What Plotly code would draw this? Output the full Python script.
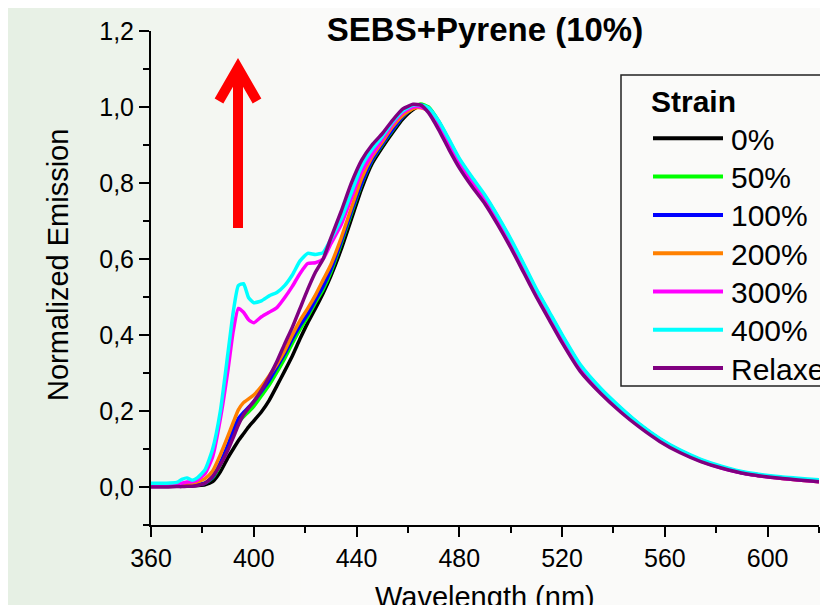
import plotly.graph_objects as go

# emission spectra (normalized)
wavelength = [360, 366, 370, 372, 374, 376, 378, 381, 384, 387, 390, 392, 394, 396, 398, 400,
              403, 406, 409, 412, 415, 418, 421, 424, 427, 430, 434, 438, 442, 446, 450, 454,
              458, 462, 465, 468, 472, 476, 480, 485, 490, 495, 500, 505, 510, 515, 520, 527,
              535, 543, 550, 558, 566, 574, 582, 592, 605, 620]

strain_0 = [0.002, 0.002, 0.002, 0.002, 0.003, 0.003, 0.004, 0.006, 0.014, 0.04, 0.078, 0.10, 0.122, 0.14, 0.158, 0.174,
            0.198, 0.228, 0.266, 0.305, 0.345, 0.39, 0.432, 0.47, 0.51, 0.555, 0.625, 0.705, 0.785, 0.85, 0.893, 0.932,
            0.968, 0.993, 1.003, 0.996, 0.956, 0.905, 0.856, 0.806, 0.76, 0.705, 0.645, 0.58, 0.515, 0.455, 0.395, 0.318,
            0.256, 0.205, 0.165, 0.126, 0.095, 0.071, 0.053, 0.036, 0.025, 0.016]
strain_50 = [0.003, 0.003, 0.003, 0.004, 0.004, 0.005, 0.006, 0.01, 0.024, 0.058, 0.105, 0.14, 0.17, 0.185, 0.198, 0.212,
             0.24, 0.268, 0.302, 0.338, 0.378, 0.415, 0.448, 0.485, 0.52, 0.565, 0.64, 0.72, 0.797, 0.858, 0.90, 0.938,
             0.974, 0.997, 1.008, 1.0, 0.962, 0.912, 0.862, 0.812, 0.765, 0.71, 0.65, 0.585, 0.518, 0.458, 0.398, 0.32,
             0.257, 0.205, 0.165, 0.126, 0.094, 0.07, 0.052, 0.035, 0.024, 0.015]
strain_100 = [0.003, 0.003, 0.003, 0.004, 0.004, 0.005, 0.006, 0.01, 0.026, 0.064, 0.112, 0.15, 0.18, 0.196, 0.21, 0.225,
              0.252, 0.28, 0.315, 0.35, 0.39, 0.425, 0.455, 0.492, 0.528, 0.572, 0.645, 0.725, 0.80, 0.86, 0.902, 0.94,
              0.975, 0.998, 1.005, 0.997, 0.96, 0.91, 0.86, 0.81, 0.763, 0.708, 0.648, 0.583, 0.517, 0.457, 0.397, 0.319,
              0.256, 0.205, 0.164, 0.125, 0.094, 0.07, 0.052, 0.035, 0.024, 0.015]
strain_200 = [0.004, 0.004, 0.005, 0.006, 0.008, 0.01, 0.013, 0.022, 0.042, 0.085, 0.135, 0.17, 0.203, 0.222, 0.232, 0.242,
              0.265, 0.293, 0.323, 0.358, 0.40, 0.438, 0.47, 0.505, 0.545, 0.585, 0.655, 0.735, 0.812, 0.868, 0.908, 0.948,
              0.978, 0.996, 0.998, 0.99, 0.953, 0.903, 0.853, 0.803, 0.757, 0.702, 0.643, 0.578, 0.512, 0.452, 0.392, 0.315,
              0.253, 0.203, 0.163, 0.124, 0.093, 0.069, 0.051, 0.035, 0.023, 0.014]
strain_300 = [0.005, 0.005, 0.008, 0.01, 0.013, 0.014, 0.018, 0.035, 0.08, 0.18, 0.31, 0.41, 0.47, 0.46, 0.44, 0.432,
              0.448, 0.46, 0.472, 0.498, 0.528, 0.562, 0.588, 0.59, 0.60, 0.64, 0.69, 0.76, 0.83, 0.875, 0.915, 0.955,
              0.985, 1.0, 1.0, 0.99, 0.952, 0.9, 0.85, 0.8, 0.754, 0.7, 0.64, 0.575, 0.508, 0.448, 0.388, 0.312,
              0.251, 0.20, 0.161, 0.123, 0.092, 0.068, 0.05, 0.034, 0.023, 0.014]
strain_400 = [0.01, 0.01, 0.012, 0.02, 0.024, 0.018, 0.024, 0.045, 0.10, 0.20, 0.355, 0.46, 0.53, 0.535, 0.498, 0.485,
              0.49, 0.503, 0.512, 0.53, 0.558, 0.595, 0.615, 0.612, 0.617, 0.652, 0.705, 0.775, 0.845, 0.888, 0.922, 0.96,
              0.99, 1.005, 1.005, 0.998, 0.963, 0.915, 0.865, 0.815, 0.768, 0.713, 0.653, 0.588, 0.521, 0.461, 0.401, 0.323,
              0.26, 0.208, 0.167, 0.128, 0.097, 0.073, 0.055, 0.038, 0.027, 0.019]
relaxed = [0.0, 0.0, 0.001, 0.001, 0.002, 0.002, 0.004, 0.01, 0.028, 0.058, 0.098, 0.13, 0.163, 0.19, 0.208, 0.225,
           0.255, 0.29, 0.33, 0.376, 0.42, 0.47, 0.52, 0.565, 0.60, 0.655, 0.725, 0.80, 0.86, 0.90, 0.93, 0.965,
           0.995, 1.007, 1.005, 0.985, 0.94, 0.888, 0.84, 0.79, 0.745, 0.69, 0.63, 0.565, 0.50, 0.44, 0.38, 0.305,
           0.246, 0.196, 0.158, 0.12, 0.09, 0.067, 0.05, 0.034, 0.023, 0.014]

labels = ["0%", "50%", "100%", "200%", "300%", "400%", "Relaxed"]
series = [strain_0, strain_50, strain_100, strain_200, strain_300, strain_400, relaxed]
colors = ["#000000", "#00ff00", "#0000ff", "#ff8000", "#ff00ff", "#00ffff", "#800080"]

# the page body has an 8px margin, so work in page pixels and shift
OFF = 8
W, H = 828 - OFF, 605 - OFF
L, R, T, B = 151 - OFF, 819 - OFF, 31 - OFF, 525 - OFF   # plot area in figure pixels
FONT = "Arial, Liberation Sans, sans-serif"


def px(x):
    return (x - OFF - L) / (R - L)


def py(y):
    return (B - (y - OFF)) / (B - T)


fig = go.Figure()
for lab, ys, col in zip(labels, series, colors):
    fig.add_trace(go.Scatter(x=wavelength, y=ys, name=lab, mode="lines",
                             line=dict(color=col, width=3.5, shape="spline", smoothing=0.5),
                             showlegend=False))

shapes = []
# faint green wash on the left side of the page
n = 30
for i in range(n):
    t = i / (n - 1)
    r = int(230 + (250 - 230) * t)
    g = int(240 + (250 - 240) * t)
    b = int(228 + (248 - 228) * t)
    shapes.append(dict(type="rect", xref="paper", yref="paper", layer="below",
                       x0=px(i * 10), x1=px(i * 10 + 11), y0=py(H + 20), y1=py(-5),
                       fillcolor=f"rgb({r},{g},{b})", line=dict(width=0)))

# red arrow
shapes.append(dict(type="line", xref="paper", yref="paper", x0=px(238), x1=px(238),
                   y0=py(228), y1=py(72), line=dict(color="#ff0000", width=10)))
shapes.append(dict(type="path", xref="paper", yref="paper",
                   path=f"M{px(219)},{py(101)} L{px(238)},{py(68)} L{px(257)},{py(101)}",
                   line=dict(color="#ff0000", width=10)))

# legend box (runs off the right edge)
shapes.append(dict(type="rect", xref="paper", yref="paper", x0=px(621), x1=px(900),
                   y0=py(386), y1=py(75), line=dict(color="#222222", width=1.5),
                   fillcolor="rgba(0,0,0,0)"))

annotations = [
    dict(text="<b>Strain</b>", xref="paper", yref="paper", x=px(649), y=py(101),
         xanchor="left", yanchor="middle", showarrow=False, font=dict(size=30, color="black")),
    dict(text="Normalized Emission", xref="paper", yref="paper", x=px(58), y=py(265),
         textangle=-90, showarrow=False, xanchor="center", yanchor="middle",
         font=dict(size=29, color="black")),
    dict(text="Wavelength (nm)", xref="paper", yref="paper", x=px(485), y=py(597),
         showarrow=False, xanchor="center", yanchor="middle", font=dict(size=29, color="black")),
]
for i, (lab, col) in enumerate(zip(labels, colors)):
    yy = 138.3 + i * 38.3
    shapes.append(dict(type="line", xref="paper", yref="paper", x0=px(653), x1=px(723),
                       y0=py(yy), y1=py(yy), line=dict(color=col, width=4)))
    annotations.append(dict(text=lab, xref="paper", yref="paper", x=px(729), y=py(yy + 1),
                            xanchor="left", yanchor="middle", showarrow=False,
                            font=dict(size=30, color="black")))

fig.update_layout(
    width=W, height=H,
    margin=dict(l=L, r=W - R, t=T, b=H - B, autoexpand=False),
    paper_bgcolor="#fafaf9", plot_bgcolor="rgba(0,0,0,0)",
    font=dict(family=FONT, size=25, color="black"),
    separators=",.",
    title=dict(text="<b>SEBS+Pyrene (10%)</b>", x=(485 - OFF) / W, xanchor="center",
               y=1 - (29 - OFF) / H, yanchor="middle", font=dict(size=33, color="black")),
    shapes=shapes, annotations=annotations, showlegend=False,
)
fig.update_xaxes(range=[360, 620], tickvals=[360, 400, 440, 480, 520, 560, 600],
                 showline=True, linecolor="black", linewidth=2, mirror=False,
                 ticks="outside", ticklen=10, tickwidth=2, tickcolor="black",
                 minor=dict(dtick=20, tick0=360, ticks="outside", ticklen=6, tickwidth=2, tickcolor="black"),
                 showgrid=False, zeroline=False, tickfont=dict(size=25))
fig.update_yaxes(range=[-0.1, 1.2], tick0=0, dtick=0.2, tickformat=".1f",
                 showline=True, linecolor="black", linewidth=2, mirror=False,
                 ticks="outside", ticklen=10, tickwidth=2, tickcolor="black",
                 minor=dict(dtick=0.1, tick0=0, ticks="outside", ticklen=6, tickwidth=2, tickcolor="black"),
                 showgrid=False, zeroline=False, tickfont=dict(size=25))

fig.write_html("out.html")
